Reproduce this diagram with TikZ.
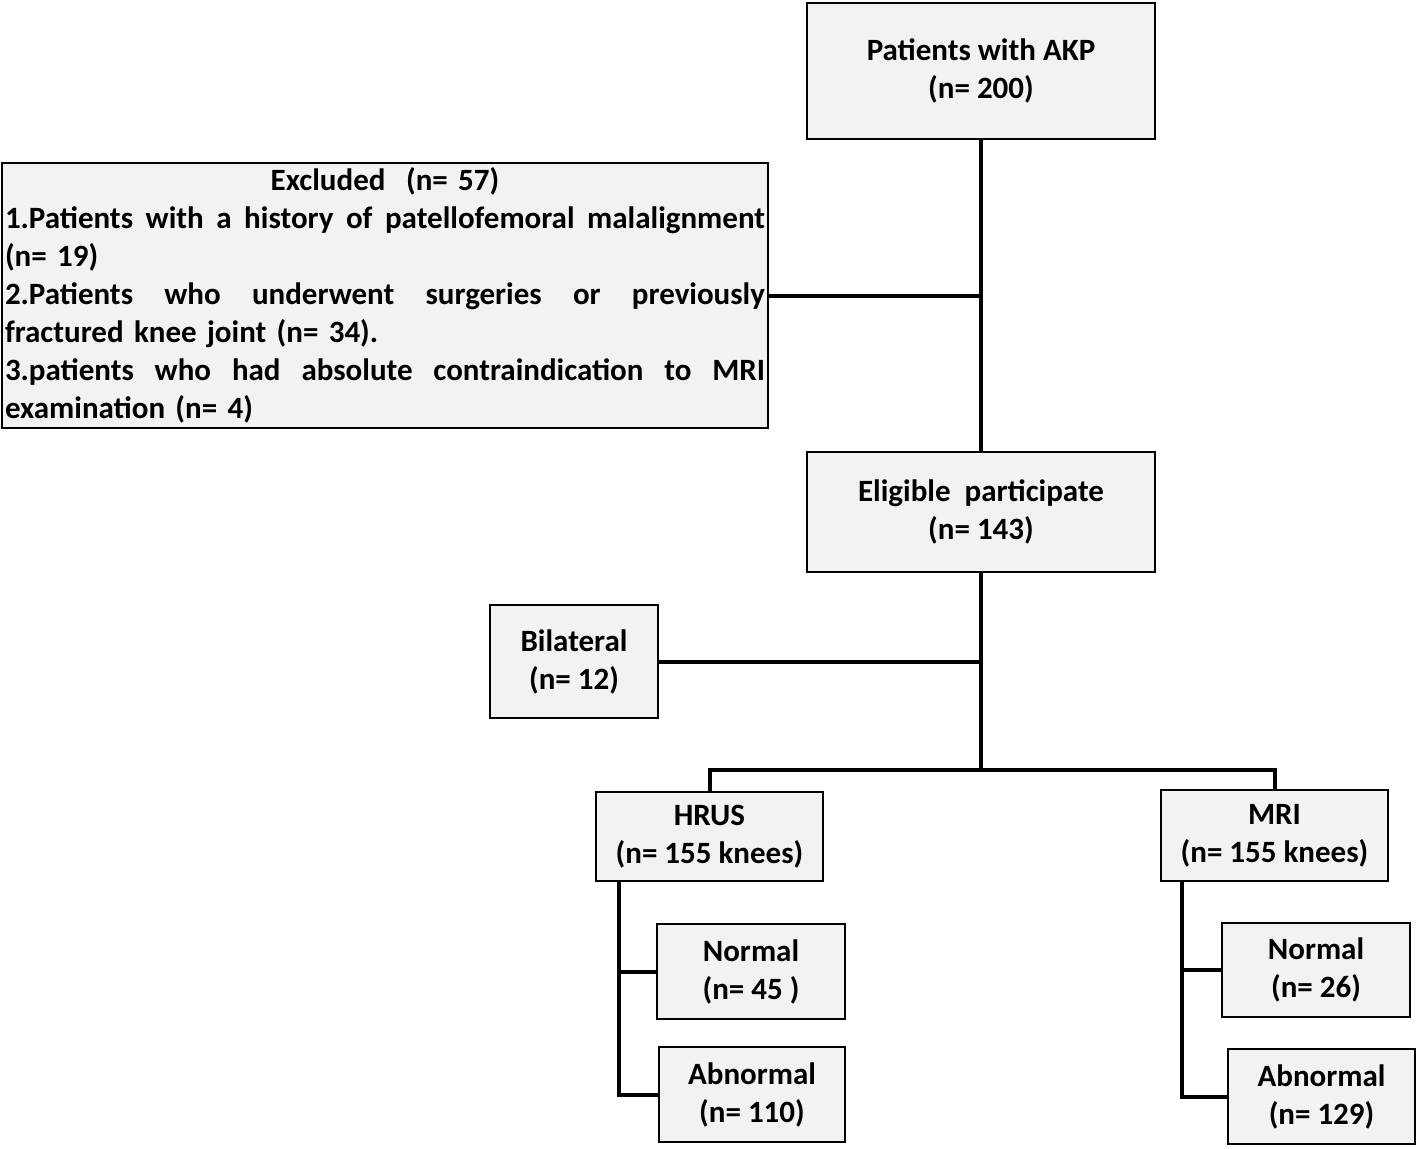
\documentclass[tikz,border=0pt]{standalone}
\usepackage{fontspec}
\setmainfont{Carlito}
\usepackage{tikz}
\definecolor{boxgray}{HTML}{F2F2F2}
\tikzset{
  box/.style={draw, line width=1pt, fill=boxgray, align=center, inner sep=0pt,
    font=\bfseries\fontsize{15.5}{19}\selectfont},
  link/.style={line width=2pt}
}
\newcommand{\fullline}[1]{\leavevmode\hbox to 380pt{\spaceskip=0.25em plus 1fil\relax #1}}

\begin{document}
\begin{tikzpicture}[x=0.5pt,y=-0.5pt]
    \useasboundingbox (0,0) rectangle (1418,1148);
    % boxes
    \node[box, minimum width=174pt, minimum height=68pt] (akp) at (981,71) {Patients with AKP\\(n= 200)};
    \node[box, minimum width=383pt, minimum height=132.5pt, text width=380pt, align=left, inner xsep=1.5pt] (excl) at (385,295.5)
        {\makebox[380pt][c]{Excluded\ \ (n= 57)}\\
         \fullline{1.Patients with a history of patellofemoral malalignment}\\
         (n= 19)\\
         \fullline{2.Patients who underwent surgeries or previously}\\
         fractured knee joint (n= 34).\\
         \fullline{3.patients who had absolute contraindication to MRI}\\
         examination (n= 4)};
    \node[box, minimum width=174pt, minimum height=60pt] (elig) at (981,512) {Eligible\ \ participate\\(n= 143)};
    \node[box, minimum width=84pt, minimum height=56.5pt] (bil) at (574,661.5) {Bilateral\\(n= 12)};
    \node[box, minimum width=113.5pt, minimum height=44.5pt] (hrus) at (709.5,836.5) {HRUS\\(n= 155 knees)};
    \node[box, minimum width=113.5pt, minimum height=45.5pt] (mri) at (1274.5,835.5) {MRI\\(n= 155 knees)};
    \node[box, minimum width=94pt, minimum height=47.5pt] (hn) at (751,971.5) {Normal\\(n= 45 )};
    \node[box, minimum width=93pt, minimum height=47.5pt] (ha) at (752,1094.5) {Abnormal\\(n= 110)};
    \node[box, minimum width=94pt, minimum height=47pt] (mn) at (1316,970) {Normal\\(n= 26)};
    \node[box, minimum width=93.5pt, minimum height=47.5pt] (ma) at (1321.5,1096.5) {Abnormal\\(n= 129)};
    \coordinate (split) at (981,770);
    % connectors
    \draw[link] (akp.south) -- (elig.north);
    \draw[link] (excl.east) -- (excl.east -| akp.south);
    \draw[link] (elig.south) -- (split);
    \draw[link] (bil.east) -- (bil.east -| elig.south);
    \draw[link] (hrus.north) |- (split) -| (mri.north);
    \draw[link] ([xshift=12pt]hrus.south west) |- (hn.west);
    \draw[link] ([xshift=12pt]hrus.south west) |- (ha.west);
    \draw[link] ([xshift=11pt]mri.south west) |- (mn.west);
    \draw[link] ([xshift=11pt]mri.south west) |- (ma.west);
\end{tikzpicture}
\end{document}
